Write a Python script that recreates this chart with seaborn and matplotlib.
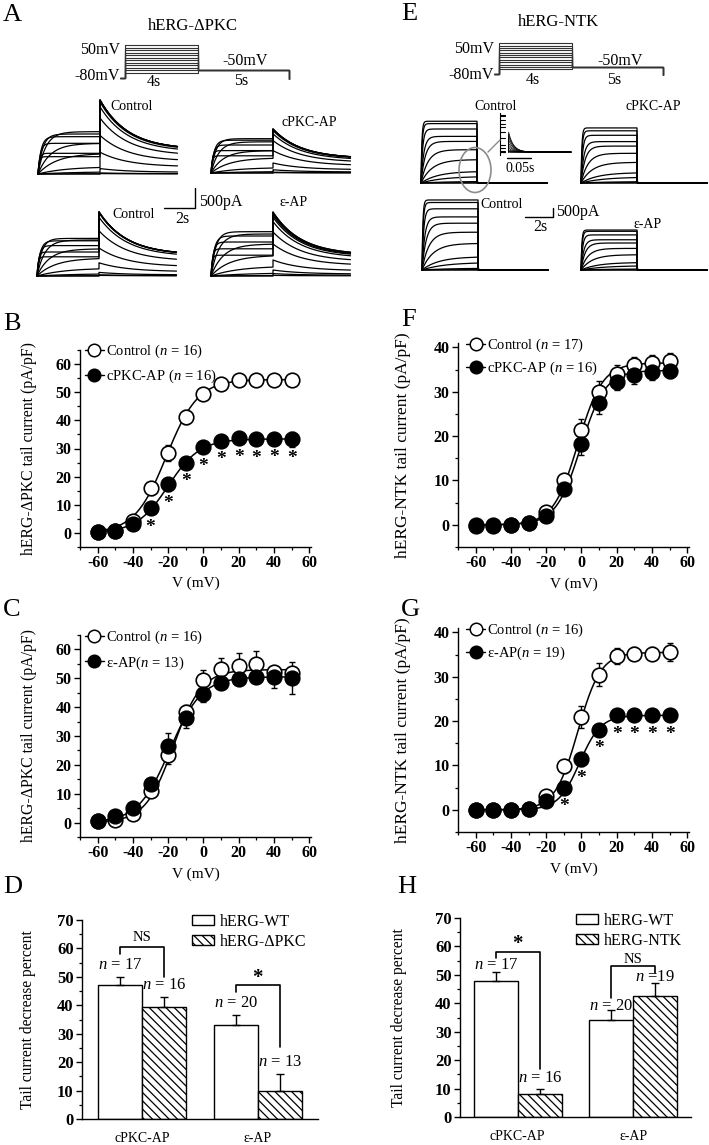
import numpy as np
import pandas as pd
import matplotlib
matplotlib.use("Agg")
import matplotlib.pyplot as plt
from matplotlib.lines import Line2D
from matplotlib.patches import Patch, Ellipse
from matplotlib.ticker import MultipleLocator
import seaborn as sns

# ======================= DATA =======================
volts = [-60, -50, -40, -30, -20, -10, 0, 10, 20, 30, 40, 50]

# Panel B : hERG-dPKC, Control vs cPKC-AP (pA/pF)
b_ctrl = [0.3, 0.8, 4.3, 15.8, 28.4, 41.2, 49.4, 53.0, 54.4, 54.3, 54.3, 54.4]
b_ctrl_err = [0.5, 0.6, 1.0, 2.3, 3.0, 2.5, 1.5, 1.2, 1.2, 1.2, 1.2, 1.2]
b_cpkc = [0.3, 0.8, 3.2, 8.7, 17.3, 25.0, 30.4, 32.8, 33.6, 33.3, 33.5, 33.2]
b_cpkc_err = [0.5, 0.6, 1.0, 1.5, 2.3, 2.0, 1.5, 1.5, 1.5, 1.5, 1.5, 2.5]
b_sig = [0, 0, 0, 1, 1, 1, 1, 1, 1, 1, 1, 1]
b_fit_ctrl = (54.5, -21.0, 9.0)   # Boltzmann fit: Imax, V1/2, k
b_fit_cpkc = (33.4, -20.0, 9.0)

# Panel C : hERG-dPKC, Control vs e-AP
c_ctrl = [0.5, 1.0, 2.8, 11.0, 23.4, 38.2, 49.5, 53.2, 54.2, 54.8, 52.2, 51.8]
c_ctrl_err = [0.5, 0.8, 1.0, 2.0, 3.0, 2.5, 3.5, 4.0, 4.5, 4.5, 2.2, 2.2]
c_eps = [0.5, 2.4, 5.2, 13.3, 26.5, 36.2, 44.7, 48.2, 49.6, 50.3, 50.3, 50.2]
c_eps_err = [0.5, 0.8, 1.0, 2.0, 4.5, 3.5, 3.0, 2.0, 2.0, 2.0, 3.5, 5.5]
c_sig = [0] * 12
c_fit_ctrl = (53.0, -17.0, 8.0)
c_fit_eps = (50.5, -19.0, 9.0)

# Panel F : hERG-NTK, Control vs cPKC-AP
f_ctrl = [0.0, 0.0, 0.0, 0.3, 2.8, 10.0, 21.4, 30.0, 34.0, 36.0, 36.6, 37.0]
f_ctrl_err = [0.3, 0.3, 0.3, 0.5, 1.0, 1.5, 2.5, 2.5, 2.0, 1.8, 1.8, 1.8]
f_cpkc = [-0.2, -0.2, -0.1, 0.3, 2.0, 8.0, 18.3, 27.4, 32.3, 33.7, 34.5, 34.6]
f_cpkc_err = [0.3, 0.3, 0.3, 0.5, 1.0, 1.0, 2.5, 2.5, 2.0, 2.0, 1.8, 1.5]
f_sig = [0] * 12
f_fit_ctrl = (36.5, -2.0, 7.0)
f_fit_cpkc = (34.8, -0.5, 7.0)

# Panel G : hERG-NTK, Control vs e-AP
g_ctrl = [0.0, 0.0, 0.0, 0.2, 3.2, 9.8, 21.0, 30.5, 34.7, 35.2, 35.2, 35.6]
g_ctrl_err = [0.3, 0.3, 0.3, 0.5, 1.0, 1.5, 2.5, 2.5, 1.8, 1.5, 1.5, 2.0]
g_eps = [0.0, 0.0, 0.0, 0.2, 2.1, 5.0, 11.4, 18.0, 21.3, 21.3, 21.3, 21.3]
g_eps_err = [0.3, 0.3, 0.3, 0.4, 0.8, 1.0, 1.5, 1.2, 1.0, 1.0, 1.0, 1.0]
g_sig = [0, 0, 0, 0, 0, 1, 1, 1, 1, 1, 1, 1]
g_fit_ctrl = (35.5, -2.0, 6.5)
g_fit_eps = (21.3, -1.0, 6.0)

# Panels D / H : tail current decrease percent
bar_cats = ["cPKC-AP", "\u03b5-AP"]
d_groups = ["hERG-WT", "hERG-\u0394PKC"]
d_wt = [47.0, 33.2]
d_wt_err = [3.0, 3.5]
d_mut = [39.5, 10.0]
d_mut_err = [3.5, 6.0]
d_n_wt = ["17", "20"]
d_n_mut = ["16", "13"]

h_groups = ["hERG-WT", "hERG-NTK"]
h_wt = [48.0, 34.0]
h_wt_err = [3.0, 3.5]
h_mut = [8.0, 42.5]
h_mut_err = [2.0, 4.5]
h_n_wt = ["17", "20"]
h_n_mut = ["16", "19"]

# Panels A / E : current traces (pA), one value per test voltage
prot_steps = volts
prot_hold, prot_tail = -80, -50
a1_step = [0, 10, 58, 183, 517, 767, 1058, 1000, 933, 767, 517, 433]
a1_tail = [10, 27, 136, 544, 966, 1400, 1680, 1800, 1850, 1850, 1850, 1850]
a2_step = [0, 8, 40, 140, 380, 560, 780, 858, 820, 700, 560, 430]
a2_tail = [8, 20, 80, 250, 560, 810, 980, 1060, 1090, 1100, 1100, 1100]
a3_step = [0, 10, 60, 200, 450, 680, 900, 940, 880, 760, 600, 480]
a3_tail = [15, 30, 90, 330, 700, 1130, 1470, 1580, 1600, 1608, 1600, 1600]
a4_step = [0, 15, 80, 250, 520, 800, 1050, 1108, 1000, 850, 680, 520]
a4_tail = [15, 60, 150, 400, 800, 1100, 1360, 1470, 1520, 1560, 1600, 1600]
a_tau_act = [3.0, 3.0, 2.5, 1.8, 1.2, 0.8, 0.5, 0.3, 0.2, 0.15, 0.1, 0.08]
a_tail_frac, a_tail_tau = 0.33, 1.8

e1_step = [0, 20, 90, 370, 650, 1300, 1850, 2310, 2590, 3000, 3300, 3430]
e2_step = [0, 20, 80, 330, 580, 1150, 1650, 2050, 2300, 2650, 2900, 3060]
e3_step = [0, 25, 100, 420, 740, 1480, 2100, 2600, 2950, 3400, 3750, 3890]
e4_step = [0, 15, 60, 240, 420, 850, 1200, 1500, 1680, 1950, 2150, 2220]
e_tail = [0, 10, 40, 100, 200, 350, 550, 800, 1100, 1400, 1650, 1850]
e_tau_act = [3.0, 2.5, 2.0, 1.6, 1.2, 0.8, 0.5, 0.3, 0.2, 0.12, 0.08, 0.06]
e_tail_tau = 0.01

# ======================= STYLE =======================
sns.set_theme(style="ticks")
plt.rcParams.update({
    "font.family": ["Liberation Serif", "DejaVu Serif"],
    "mathtext.fontset": "custom",
    "mathtext.rm": "Liberation Serif",
    "mathtext.it": "Liberation Serif:italic",
    "mathtext.bf": "Liberation Serif:bold",
    "axes.unicode_minus": False,
    "hatch.linewidth": 0.9,
    "axes.linewidth": 1.0,
    "axes.edgecolor": "black",
    "text.color": "black",
    "axes.labelcolor": "black",
    "xtick.color": "black", "ytick.color": "black",
    "xtick.major.width": 1.0, "ytick.major.width": 1.0,
    "xtick.minor.width": 0.9, "ytick.minor.width": 0.9,
    "xtick.major.size": 4, "ytick.major.size": 4,
    "xtick.minor.size": 2.2, "ytick.minor.size": 2.2,
})

W, H = 709, 1145
fig = plt.figure(figsize=(W / 100, H / 100), dpi=100)
fig.patch.set_facecolor("white")


def rect(x0, y0, x1, y1):
    return [x0 / W, 1 - y1 / H, (x1 - x0) / W, (y1 - y0) / H]


def boltz(v, imax, vh, k):
    return imax / (1 + np.exp((vh - v) / k))


LEG = r"$\mathit{n}$"


def iv_panel(box, ylim, ctrl, ctrl_err, trt, trt_err, fit_c, fit_t, sig,
             labels, ylabel, ylab_size, ylab_x, leg_anchor, leg_space):
    ax = fig.add_axes(rect(*box))
    vf = np.linspace(volts[0], volts[-1], 300)
    fit_df = pd.DataFrame({
        "V": np.concatenate([vf, vf]),
        "I": np.concatenate([boltz(vf, *fit_c), boltz(vf, *fit_t)]),
        "grp": ["c"] * len(vf) + ["t"] * len(vf)})
    sns.lineplot(data=fit_df, x="V", y="I", hue="grp", palette=["black", "black"],
                 linewidth=1.1, legend=False, ax=ax, zorder=1)
    ax.errorbar(volts, ctrl, yerr=ctrl_err, fmt="none", ecolor="black",
                elinewidth=1, capsize=2.2, capthick=1, zorder=2)
    ax.errorbar(volts, trt, yerr=trt_err, fmt="none", ecolor="black",
                elinewidth=1, capsize=2.2, capthick=1, zorder=3)
    sns.scatterplot(x=volts, y=ctrl, s=110, color="white", edgecolor="black",
                    linewidth=1.2, ax=ax, zorder=4, legend=False)
    sns.scatterplot(x=volts, y=trt, s=110, color="black", edgecolor="black",
                    linewidth=1.2, ax=ax, zorder=5, legend=False)
    for v, y, s in zip(volts, trt, sig):
        if s:
            ax.annotate("*", (v, y), xytext=(0, -7.5), textcoords="offset points",
                        ha="center", va="top", fontsize=14, fontweight="bold")
    ax.set_xlim(-70, 61)
    ax.set_ylim(*ylim)
    ax.xaxis.set_major_locator(MultipleLocator(20))
    ax.xaxis.set_minor_locator(MultipleLocator(10))
    ax.yaxis.set_major_locator(MultipleLocator(10))
    ax.yaxis.set_minor_locator(MultipleLocator(5))
    ax.tick_params(which="both", direction="out", labelsize=11.5, pad=2)
    for lab in ax.get_xticklabels() + ax.get_yticklabels():
        lab.set_fontweight("bold")
    ax.set_xlabel("V (mV)", fontsize=11)
    ax.xaxis.set_label_coords(0.5, -0.15)
    ax.set_ylabel(ylabel, fontsize=ylab_size)
    ax.yaxis.set_label_coords(ylab_x, 0.5)
    sns.despine(ax=ax)
    handles = [
        Line2D([0], [0], color="black", lw=1, marker="o", ms=9,
               mfc="white", mec="black", mew=1.1),
        Line2D([0], [0], color="black", lw=1, marker="o", ms=9,
               mfc="black", mec="black", mew=1.1)]
    ax.legend(handles, labels, loc="upper left", bbox_to_anchor=leg_anchor,
              frameon=False, fontsize=10.5, handlelength=1.3, handletextpad=0.15,
              borderpad=0, borderaxespad=0, labelspacing=leg_space)
    return ax


def bar_panel(box, xlim, groups, wt, wt_err, mut, mut_err, n_wt, n_mut,
              n_dy, brackets, ylab_x, leg_anchor):
    ax = fig.add_axes(rect(*box))
    df = pd.DataFrame({"cat": bar_cats * 2,
                       "grp": [groups[0]] * 2 + [groups[1]] * 2,
                       "val": wt + mut})
    sns.barplot(data=df, x="cat", y="val", hue="grp", hue_order=groups,
                palette=["white", "white"], edgecolor="black", linewidth=1.0,
                width=0.76, gap=0, errorbar=None, legend=False, saturation=1, ax=ax)
    for bar in ax.containers[1]:
        bar.set_hatch("\\\\\\\\")
    centers = []
    for cont, vals, errs in zip(ax.containers, [wt, mut], [wt_err, mut_err]):
        xs = [b.get_x() + b.get_width() / 2 for b in cont]
        centers.append(xs)
        ax.errorbar(xs, vals, yerr=[[0] * len(vals), errs], fmt="none",
                    ecolor="black", elinewidth=1, capsize=3, capthick=1, zorder=3)
    # n labels
    for gi, (vals, errs, ns) in enumerate([(wt, wt_err, n_wt), (mut, mut_err, n_mut)]):
        for ci in range(2):
            ax.text(centers[gi][ci], vals[ci] + errs[ci] + n_dy[gi][ci],
                    LEG + " = " + ns[ci] if ns[ci] != "19" else LEG + " =" + ns[ci],
                    ha="center", va="center", fontsize=12)
    # significance brackets
    for ci, ytop, yl, yr, lab, ylab in brackets:
        xl, xr = centers[0][ci], centers[1][ci]
        ax.plot([xl, xl, xr, xr], [yl, ytop, ytop, yr], color="black", lw=1.2)
        if lab == "*":
            ax.text((xl + xr) / 2, ylab, "*", ha="center", va="center",
                    fontsize=15, fontweight="bold")
        else:
            ax.text((xl + xr) / 2, ylab, lab, ha="center", va="center", fontsize=10.5)
    ax.set_xlim(*xlim)
    ax.set_ylim(0, 70)
    ax.yaxis.set_major_locator(MultipleLocator(10))
    ax.yaxis.set_minor_locator(MultipleLocator(5))
    ax.tick_params(axis="y", which="both", direction="out", labelsize=12, pad=2)
    ax.tick_params(axis="x", length=0, labelsize=10, pad=9)
    for lab in ax.get_yticklabels():
        lab.set_fontweight("bold")
    ax.set_xlabel("")
    ax.set_ylabel("Tail current decrease percent", fontsize=11.2)
    ax.yaxis.set_label_coords(ylab_x, 0.5)
    sns.despine(ax=ax)
    handles = [Patch(facecolor="white", edgecolor="black", lw=1.0),
               Patch(facecolor="white", edgecolor="black", lw=1.0, hatch="\\\\\\\\")]
    ax.legend(handles, groups, loc="upper left", bbox_to_anchor=leg_anchor,
              frameon=False, fontsize=11.5, handlelength=1.4, handleheight=0.6,
              handletextpad=0.35, borderpad=0, borderaxespad=0, labelspacing=0.25)
    return ax


def trace_axes(t0px, base_px, pxs, pxa, tlim=(-0.3, 9.4), alim=(-300, 4200)):
    x0 = t0px + tlim[0] * pxs
    x1 = t0px + tlim[1] * pxs
    ytop = base_px - alim[1] * pxa
    ybot = base_px - alim[0] * pxa
    ax = fig.add_axes(rect(x0, ytop, x1, ybot))
    ax.set_xlim(*tlim)
    ax.set_ylim(*alim)
    ax.axis("off")
    return ax


def draw_traces(ax, step_amp, tail_amp, tau_act, tail_frac, tail_tau):
    t1 = np.linspace(0, 4, 500)
    t2 = np.linspace(0, 5, 2500)
    for S, T, ta in zip(step_amp, tail_amp, tau_act):
        i1 = S * (1 - np.exp(-t1 / ta))
        i2 = T * (tail_frac + (1 - tail_frac) * np.exp(-t2 / tail_tau))
        ax.plot(np.r_[t1, 4 + t2], np.r_[i1, i2], color="black", lw=0.9,
                clip_on=False)


def protocol_axes(t0px, y80, y50, pxs):
    pxmv = (y80 - y50) / 130.0
    tlim, vlim = (-0.6, 9.4), (-90, 55)
    x0 = t0px + tlim[0] * pxs
    x1 = t0px + tlim[1] * pxs
    ytop = y80 - (vlim[1] - prot_hold) * pxmv
    ybot = y80 - (vlim[0] - prot_hold) * pxmv
    ax = fig.add_axes(rect(x0, ytop, x1, ybot))
    ax.set_xlim(*tlim)
    ax.set_ylim(*vlim)
    ax.axis("off")
    for v in prot_steps:
        ax.plot([-0.25, 0, 0, 4, 4, 9, 9], [prot_hold, prot_hold, v, v, prot_tail,
                                            prot_tail, prot_hold - 3],
                color="#333333", lw=0.8)
    return ax


# ======================= PANELS A / E =======================
protocol_axes(125, 78, 45, 18.25)
protocol_axes(499, 74, 43.3, 18.25)

A_PXS, A_PXA = 15.5, 0.04
ta1 = trace_axes(38, 174, A_PXS, A_PXA)
draw_traces(ta1, a1_step, a1_tail, a_tau_act, a_tail_frac, a_tail_tau)
ta2 = trace_axes(211, 173, A_PXS, A_PXA)
draw_traces(ta2, a2_step, a2_tail, a_tau_act, a_tail_frac, a_tail_tau)
ta3 = trace_axes(37, 276, A_PXS, A_PXA)
draw_traces(ta3, a3_step, a3_tail, a_tau_act, a_tail_frac, a_tail_tau)
ta4 = trace_axes(211, 276, A_PXS, A_PXA)
draw_traces(ta4, a4_step, a4_tail, a_tau_act, a_tail_frac, a_tail_tau)
# scale bar 2 s / 500 pA
ta3.plot([8.19, 10.19, 10.19], [1700, 1700, 2200], color="black", lw=1.0, clip_on=False)

E_PXS, E_PXA = 14.0, 0.018
te1 = trace_axes(421, 183, E_PXS, E_PXA)
draw_traces(te1, e1_step, e_tail, e_tau_act, 0.0, e_tail_tau)
te2 = trace_axes(581, 183, E_PXS, E_PXA)
draw_traces(te2, e2_step, e_tail, e_tau_act, 0.0, e_tail_tau)
te3 = trace_axes(422, 270, E_PXS, E_PXA)
draw_traces(te3, e3_step, e_tail, e_tau_act, 0.0, e_tail_tau)
te4 = trace_axes(581, 270, E_PXS, E_PXA)
draw_traces(te4, e4_step, e_tail, e_tau_act, 0.0, e_tail_tau)
te3.plot([7.36, 9.36, 9.36], [2944, 2944, 3444], color="black", lw=1.0, clip_on=False)

# inset: tail currents of hERG-NTK control at higher time resolution
ins = fig.add_axes(rect(500, 113, 572, 155))
ins.set_xlim(3.99, 4.14)
ins.set_ylim(-280, 3610)
tt = np.linspace(0, 0.13, 400)
for S, T, ta in zip(e1_step, e_tail, e_tau_act):
    s_end = S * (1 - np.exp(-4 / ta))
    ins.plot([3.99, 3.9995], [s_end, s_end], color="black", lw=0.8)
    ins.plot(np.r_[4.008, 4.008 + tt], np.r_[0, T * np.exp(-tt / e_tail_tau)],
             color="black", lw=0.5)
for side in ["top", "right", "bottom"]:
    ins.spines[side].set_visible(False)
ins.spines["left"].set_linewidth(0.8)
ins.set_xticks([])
ins.set_yticks([])
ins.patch.set_alpha(0)
ins.plot([4.005, 4.055], [-560, -560], color="black", lw=1.0, clip_on=False)

# ======================= PANELS B C F G =======================
iv_panel((80, 350, 311, 547), (-5, 65), b_ctrl, b_ctrl_err, b_cpkc, b_cpkc_err,
         b_fit_ctrl, b_fit_cpkc, b_sig,
         ["Control (" + LEG + " = 16)", "cPKC-AP (" + LEG + " = 16)"],
         "hERG-\u0394PKC tail current (pA/pF)", 11.3, -0.186, (0.02, 1.035), 0.5)
iv_panel((80, 635, 311, 837), (-5, 65), c_ctrl, c_ctrl_err, c_eps, c_eps_err,
         c_fit_ctrl, c_fit_eps, c_sig,
         ["Control (" + LEG + " = 16)", "\u03b5-AP(" + LEG + " = 13)"],
         "hERG-\u0394PKC tail current (pA/pF)", 11.3, -0.186, (0.02, 1.03), 0.55)
iv_panel((458, 343, 689, 547), (-5, 41), f_ctrl, f_ctrl_err, f_cpkc, f_cpkc_err,
         f_fit_ctrl, f_fit_cpkc, f_sig,
         ["Control (" + LEG + " = 17)", "cPKC-AP (" + LEG + " = 16)"],
         "hERG-NTK tail current (pA/pF)", 12.5, -0.203, (0.035, 1.03), 0.4)
iv_panel((458, 628, 689, 832), (-5, 41), g_ctrl, g_ctrl_err, g_eps, g_eps_err,
         g_fit_ctrl, g_fit_eps, g_sig,
         ["Control (" + LEG + " = 16)", "\u03b5-AP(" + LEG + " = 19)"],
         "hERG-NTK tail current (pA/pF)", 12.5, -0.203, (0.035, 1.03), 0.4)

# ======================= PANELS D H =======================
bar_panel((82, 920, 318, 1119), (-0.52, 1.52), d_groups, d_wt, d_wt_err, d_mut, d_mut_err,
          d_n_wt, d_n_mut, [[4.1, 4.1], [4.1, 4.0]],
          [(0, 60.5, 58.0, 50.0, "NS", 64.0), (1, 47.0, 44.7, 25.4, "*", 49.5)],
          -0.195, (0.466, 1.03))
bar_panel((460, 918, 691, 1117), (-0.5, 1.5), h_groups, h_wt, h_wt_err, h_mut, h_mut_err,
          h_n_wt, h_n_mut, [[2.6, 1.5], [3.6, 2.2]],
          [(0, 58.0, 56.0, 17.0, "*", 61.0), (1, 53.0, 42.0, 50.7, "NS", 55.5)],
          -0.229, (0.502, 1.025))

# ======================= OVERLAY TEXT =======================
ov = fig.add_axes([0, 0, 1, 1])
ov.set_xlim(0, W)
ov.set_ylim(H, 0)
ov.axis("off")
ov.patch.set_alpha(0)


def t(x, y, s, size=11, ha="center", **kw):
    ov.text(x, y, s, fontsize=size, ha=ha, va="center", **kw)


for letter, x, y in [("A", 3, 15), ("E", 401, 14), ("B", 3, 324), ("C", 3, 610),
                     ("D", 3, 887), ("F", 401, 320), ("G", 401, 610), ("H", 397, 887)]:
    t(x, y, letter, size=19, ha="left")

t(193, 26, "hERG-\u0394PKC", 12)
t(120, 50, "50mV", 11.5, ha="right")
t(120, 76, "-80mV", 11.5, ha="right")
t(154, 82, "4s", 11.5)
t(241, 81, "5s", 11.5)
t(245, 61, "-50mV", 11.5)
t(110, 107, "Control", 10, ha="left")
t(281, 122, "cPKC-AP", 10, ha="left")
t(112, 215, "Control", 10, ha="left")
t(279, 202, "\u03b5-AP", 10, ha="left")
t(199, 202, "500pA", 11.5, ha="left")
t(182, 219, "2s", 11.5)

t(559, 22, "hERG-NTK", 12)
t(494, 49, "50mV", 11.5, ha="right")
t(494, 75, "-80mV", 11.5, ha="right")
t(533, 80, "4s", 11.5)
t(614, 80, "5s", 11.5)
t(620, 61, "-50mV", 11.5)
t(474, 106, "Control", 10, ha="left")
t(626, 106, "cPKC-AP", 10, ha="left")
t(480, 204, "Control", 10, ha="left")
t(633, 224, "\u03b5-AP", 10, ha="left")
t(556, 212, "500pA", 11.5, ha="left")
t(540, 227, "2s", 11.5)
t(520, 168, "0.05s", 10)

ov.add_patch(Ellipse((475, 170), 32, 45, fill=False, edgecolor="#8c8c8c", lw=1.2))
ov.plot([488, 500], [152, 140], color="#8c8c8c", lw=1.0)

fig.savefig("out.png", dpi=100, facecolor="white")
